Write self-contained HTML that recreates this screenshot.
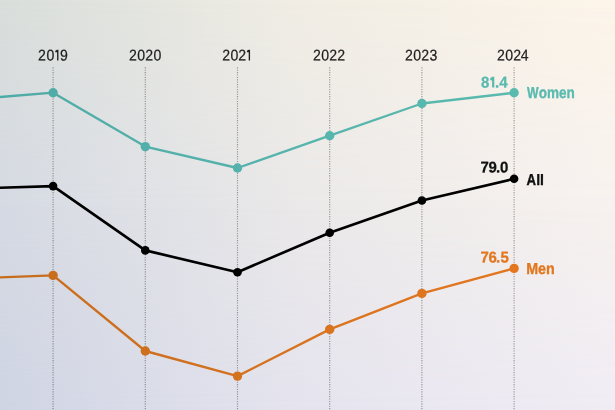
<!DOCTYPE html>
<html><head><meta charset="utf-8">
<style>
html,body{margin:0;padding:0;width:615px;height:410px;overflow:hidden;}
body{position:relative;font-family:"Liberation Sans",sans-serif;background:#fff;}
#ov{mix-blend-mode:multiply;}
.l{position:absolute;left:0;top:0;width:615px;height:410px;}
#b0{background:linear-gradient(to right,#d9dedb 0%,#f0ede4 47%,#fdf5ea 100%);}
#b1{background:linear-gradient(to right,#d5dae3 0%,#ebe9e9 50%,#f7f2ef 100%);
 -webkit-mask-image:linear-gradient(to bottom,transparent 0%,#000 50%,#000 100%);
 mask-image:linear-gradient(to bottom,transparent 0%,#000 50%,#000 100%);}
#b2{background:linear-gradient(to right,#cfd4e3 0%,#e4e3ee 47%,#f0ecf4 100%);
 -webkit-mask-image:linear-gradient(to bottom,transparent 50%,#000 100%);
 mask-image:linear-gradient(to bottom,transparent 50%,#000 100%);}
svg{position:absolute;left:0;top:0;}
text{font-family:"Liberation Sans",sans-serif;text-rendering:geometricPrecision;}
</style></head><body>
<svg width="615" height="410" viewBox="0 0 615 410">
<g stroke="#a4a4a4" stroke-width="1.2" stroke-dasharray="1.1 1.3">
<line x1="53.1" y1="67.3" x2="53.1" y2="410"/>
<line x1="145.3" y1="67.3" x2="145.3" y2="410"/>
<line x1="237.5" y1="67.3" x2="237.5" y2="410"/>
<line x1="329.7" y1="67.3" x2="329.7" y2="410"/>
<line x1="421.9" y1="67.3" x2="421.9" y2="410"/>
<line x1="514.1" y1="67.3" x2="514.1" y2="410"/>
</g>
<text transform="translate(38.09,60.4) scale(0.9,1) rotate(0.2)" font-size="15.6" font-weight="normal" fill="#222" stroke="#222" stroke-width="0.222">2</text>
<text transform="translate(46.45,60.4) scale(0.9,1) rotate(0.2)" font-size="15.6" font-weight="normal" fill="#222" stroke="#222" stroke-width="0.222">0</text>
<text transform="translate(60.04,60.4) scale(0.9,1) rotate(0.2)" font-size="15.6" font-weight="normal" fill="#222" stroke="#222" stroke-width="0.222">9</text>
<text transform="translate(129.09,60.4) scale(0.9,1) rotate(0.2)" font-size="15.6" font-weight="normal" fill="#222" stroke="#222" stroke-width="0.222">2</text>
<text transform="translate(137.30,60.4) scale(0.9,1) rotate(0.2)" font-size="15.6" font-weight="normal" fill="#222" stroke="#222" stroke-width="0.222">0</text>
<text transform="translate(145.19,60.4) scale(0.9,1) rotate(0.2)" font-size="15.6" font-weight="normal" fill="#222" stroke="#222" stroke-width="0.222">2</text>
<text transform="translate(153.40,60.4) scale(0.9,1) rotate(0.2)" font-size="15.6" font-weight="normal" fill="#222" stroke="#222" stroke-width="0.222">0</text>
<text transform="translate(222.19,60.4) scale(0.9,1) rotate(0.2)" font-size="15.6" font-weight="normal" fill="#222" stroke="#222" stroke-width="0.222">2</text>
<text transform="translate(230.40,60.4) scale(0.9,1) rotate(0.2)" font-size="15.6" font-weight="normal" fill="#222" stroke="#222" stroke-width="0.222">0</text>
<text transform="translate(238.29,60.4) scale(0.9,1) rotate(0.2)" font-size="15.6" font-weight="normal" fill="#222" stroke="#222" stroke-width="0.222">2</text>
<text transform="translate(313.09,60.4) scale(0.9,1) rotate(0.2)" font-size="15.6" font-weight="normal" fill="#222" stroke="#222" stroke-width="0.222">2</text>
<text transform="translate(321.30,60.4) scale(0.9,1) rotate(0.2)" font-size="15.6" font-weight="normal" fill="#222" stroke="#222" stroke-width="0.222">0</text>
<text transform="translate(329.19,60.4) scale(0.9,1) rotate(0.2)" font-size="15.6" font-weight="normal" fill="#222" stroke="#222" stroke-width="0.222">2</text>
<text transform="translate(337.24,60.4) scale(0.9,1) rotate(0.2)" font-size="15.6" font-weight="normal" fill="#222" stroke="#222" stroke-width="0.222">2</text>
<text transform="translate(405.09,60.4) scale(0.9,1) rotate(0.2)" font-size="15.6" font-weight="normal" fill="#222" stroke="#222" stroke-width="0.222">2</text>
<text transform="translate(413.30,60.4) scale(0.9,1) rotate(0.2)" font-size="15.6" font-weight="normal" fill="#222" stroke="#222" stroke-width="0.222">0</text>
<text transform="translate(421.19,60.4) scale(0.9,1) rotate(0.2)" font-size="15.6" font-weight="normal" fill="#222" stroke="#222" stroke-width="0.222">2</text>
<text transform="translate(429.42,60.4) scale(0.9,1) rotate(0.2)" font-size="15.6" font-weight="normal" fill="#222" stroke="#222" stroke-width="0.222">3</text>
<text transform="translate(497.09,60.4) scale(0.9,1) rotate(0.2)" font-size="15.6" font-weight="normal" fill="#222" stroke="#222" stroke-width="0.222">2</text>
<text transform="translate(505.30,60.4) scale(0.9,1) rotate(0.2)" font-size="15.6" font-weight="normal" fill="#222" stroke="#222" stroke-width="0.222">0</text>
<text transform="translate(513.19,60.4) scale(0.9,1) rotate(0.2)" font-size="15.6" font-weight="normal" fill="#222" stroke="#222" stroke-width="0.222">2</text>
<text transform="translate(520.68,60.4) scale(0.9,1) rotate(0.2)" font-size="15.6" font-weight="normal" fill="#222" stroke="#222" stroke-width="0.222">4</text>
<path d="M57.10,49.67H58.45V60.40H57.10V52.17L55.30,52.17V50.87Z" fill="#222"/>
<path d="M248.70,49.67H250.05V60.40H248.70V52.17L246.90,52.17V50.87Z" fill="#222"/>
<g fill="none" stroke-width="2.35" stroke-linejoin="round">
<polyline stroke="#5dc5be" points="0,97.0 53.1,92.7 145.3,146.6 237.5,168.0 329.7,135.7 421.9,103.5 514.1,92.8"/>
<polyline stroke="#000" stroke-width="2.65" points="0,187.8 53.1,186.1 145.3,250.4 237.5,272.2 329.7,232.7 421.9,200.5 514.1,178.8"/>
<polyline stroke="#f08021" points="0,277.4 53.1,275.4 145.3,351.0 237.5,376.1 329.7,329.4 421.9,293.4 514.1,268.4"/>
</g>
<g fill="#5dc5be"><circle cx="53.1" cy="92.7" r="4.7"/><circle cx="145.3" cy="146.6" r="4.7"/><circle cx="237.5" cy="168.0" r="4.7"/><circle cx="329.7" cy="135.7" r="4.7"/><circle cx="421.9" cy="103.5" r="4.7"/><circle cx="514.1" cy="92.8" r="4.7"/></g>
<g fill="#000"><circle cx="53.1" cy="186.1" r="4.3"/><circle cx="145.3" cy="250.4" r="4.3"/><circle cx="237.5" cy="272.2" r="4.3"/><circle cx="329.7" cy="232.7" r="4.3"/><circle cx="421.9" cy="200.5" r="4.3"/><circle cx="514.1" cy="178.8" r="4.3"/></g>
<g fill="#f08021"><circle cx="53.1" cy="275.4" r="4.7"/><circle cx="145.3" cy="351.0" r="4.7"/><circle cx="237.5" cy="376.1" r="4.7"/><circle cx="329.7" cy="329.4" r="4.7"/><circle cx="421.9" cy="293.4" r="4.7"/><circle cx="514.1" cy="268.4" r="4.7"/></g>
<text transform="translate(481.12,87.6) scale(0.96,1) rotate(0.2)" font-size="15.6" font-weight="bold" fill="#5dc5be" stroke="#5dc5be" stroke-width="0.260">8</text>
<text transform="translate(494.88,87.6) scale(0.96,1) rotate(0.2)" font-size="15.6" font-weight="bold" fill="#5dc5be" stroke="#5dc5be" stroke-width="0.260">.</text>
<text transform="translate(499.32,87.6) scale(0.96,1) rotate(0.2)" font-size="15.6" font-weight="bold" fill="#5dc5be" stroke="#5dc5be" stroke-width="0.260">4</text>
<path d="M492.10,76.87H494.30V87.60H492.10V80.47L490.20,80.27V78.27Z" fill="#5dc5be"/>
<text transform="translate(480.46,172.6) scale(0.96,1) rotate(0.2)" font-size="15.6" font-weight="bold" fill="#111" stroke="#111" stroke-width="0.260">7</text>
<text transform="translate(488.38,172.6) scale(0.96,1) rotate(0.2)" font-size="15.6" font-weight="bold" fill="#111" stroke="#111" stroke-width="0.260">9</text>
<text transform="translate(495.98,172.6) scale(0.96,1) rotate(0.2)" font-size="15.6" font-weight="bold" fill="#111" stroke="#111" stroke-width="0.260">.</text>
<text transform="translate(500.01,172.6) scale(0.96,1) rotate(0.2)" font-size="15.6" font-weight="bold" fill="#111" stroke="#111" stroke-width="0.260">0</text>
<text transform="translate(480.46,262.6) scale(0.96,1) rotate(0.2)" font-size="15.6" font-weight="bold" fill="#f08021" stroke="#f08021" stroke-width="0.260">7</text>
<text transform="translate(488.60,262.6) scale(0.96,1) rotate(0.2)" font-size="15.6" font-weight="bold" fill="#f08021" stroke="#f08021" stroke-width="0.260">6</text>
<text transform="translate(495.98,262.6) scale(0.96,1) rotate(0.2)" font-size="15.6" font-weight="bold" fill="#f08021" stroke="#f08021" stroke-width="0.260">.</text>
<text transform="translate(500.39,262.6) scale(0.96,1) rotate(0.2)" font-size="15.6" font-weight="bold" fill="#f08021" stroke="#f08021" stroke-width="0.260">5</text>
<text transform="translate(527.09,97.9) scale(0.77,1) rotate(0.2)" font-size="15.9" font-weight="bold" fill="#5dc5be" stroke="#5dc5be" stroke-width="0.390">W</text>
<text transform="translate(538.67,97.9) scale(0.85,1) rotate(0.2)" font-size="15.9" font-weight="bold" fill="#5dc5be" stroke="#5dc5be" stroke-width="0.353">omen</text>
<text transform="translate(526.47,185.1) scale(0.825,1) rotate(0.2)" font-size="15.9" font-weight="bold" fill="#111" stroke="#111" stroke-width="0.364">A</text>
<text transform="translate(536.22,185.1) scale(0.88,0.95) rotate(0.2)" font-size="15.9" font-weight="bold" fill="#111" stroke="#111" stroke-width="0.341">ll</text>
<text transform="translate(526.25,274.0) scale(0.897,1) rotate(0.2)" font-size="15.9" font-weight="bold" fill="#f08021" stroke="#f08021" stroke-width="0.334">Men</text>
</svg>
<div class="l" id="ov"><div class="l" id="b0"></div><div class="l" id="b1"></div><div class="l" id="b2"></div></div>
</body></html>
